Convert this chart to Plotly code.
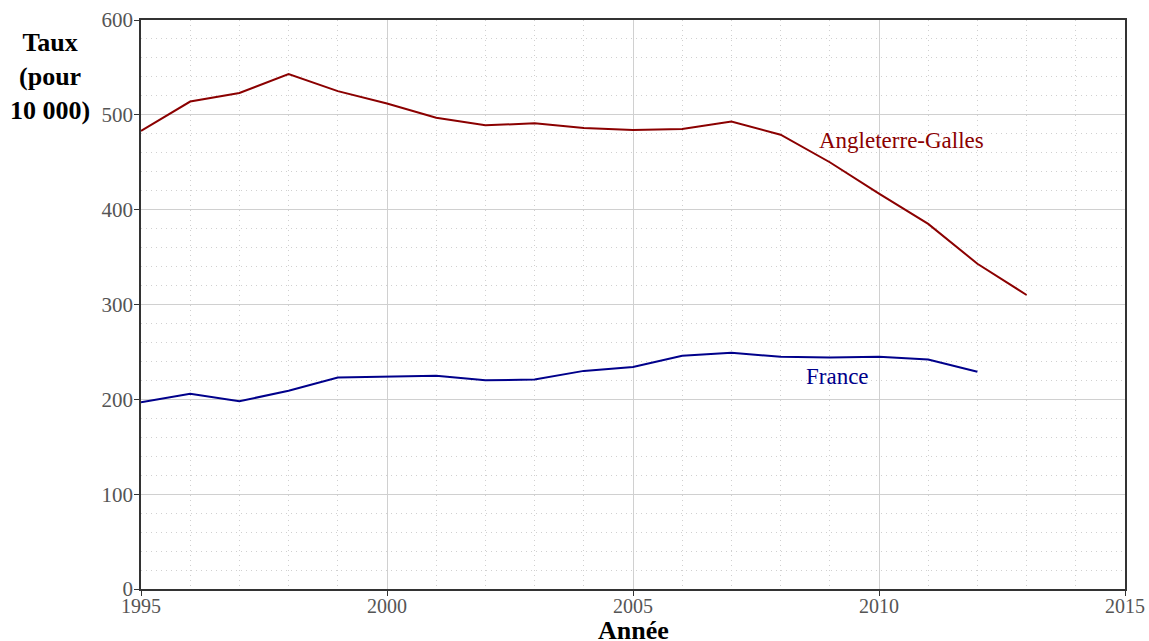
import plotly.graph_objects as go

years_ew = list(range(1995, 2014))
ew = [483, 514, 523, 543, 525, 512, 497, 489, 491, 486, 484, 485, 493, 479, 450, 417, 385, 343, 310]
years_fr = list(range(1995, 2013))
fr = [197, 206, 198, 209, 223, 224, 225, 220, 221, 230, 234, 246, 249, 245, 244, 245, 242, 229]

red = "#8b0000"
blue = "#00008b"
font = "Liberation Serif"

fig = go.Figure()
fig.add_trace(go.Scatter(x=years_ew, y=ew, mode="lines", line=dict(color=red, width=2), showlegend=False))
fig.add_trace(go.Scatter(x=years_fr, y=fr, mode="lines", line=dict(color=blue, width=2), showlegend=False))

fig.add_annotation(x=2010.45, y=473, text="Angleterre-Galles", showarrow=False,
                   font=dict(family=font, size=23, color=red))
fig.add_annotation(x=2009.15, y=224, text="France", showarrow=False,
                   font=dict(family=font, size=23, color=blue))
fig.add_annotation(xref="paper", yref="paper", x=-0.0925, y=0.99, yanchor="top", xanchor="center",
                   text="<b>Taux<br>(pour<br>10 000)</b>", showarrow=False, align="center",
                   font=dict(family=font, size=26, color="black"))
fig.add_annotation(xref="paper", yref="paper", x=0.5, y=-0.0725, yanchor="middle", xanchor="center",
                   text="<b>Année</b>", showarrow=False,
                   font=dict(family=font, size=26, color="black"))

grid = "#d0d0d0"
fig.update_layout(
    width=1149, height=641,
    margin=dict(l=141, r=24, t=20, b=52),
    plot_bgcolor="white", paper_bgcolor="white",
    font=dict(family=font, size=20, color="#555"),
    xaxis=dict(range=[1995, 2015], tickvals=[1995, 2000, 2005, 2010, 2015], automargin=False,
               showgrid=True, gridcolor=grid, gridwidth=1,
               minor=dict(dtick=1, showgrid=True, gridcolor=grid, griddash="1px,4px", ticks=""),
               showline=True, linecolor="#333", linewidth=1.5, mirror=True,
               ticks="outside", ticklen=5, tickcolor="#333", ticklabelstandoff=-7,
               zeroline=False),
    yaxis=dict(range=[0, 600], tickvals=[0, 100, 200, 300, 400, 500, 600], automargin=False,
               showgrid=True, gridcolor=grid, gridwidth=1,
               minor=dict(dtick=20, showgrid=True, gridcolor=grid, griddash="1px,4px", ticks=""),
               showline=True, linecolor="#333", linewidth=1.5, mirror=True,
               ticks="outside", ticklen=5, tickcolor="#333", ticklabelstandoff=-3,
               tickfont=dict(size=21), zeroline=False),
)

fig.write_html("out.html", config={"displayModeBar": False},
               post_script="document.body.style.margin='0';")
